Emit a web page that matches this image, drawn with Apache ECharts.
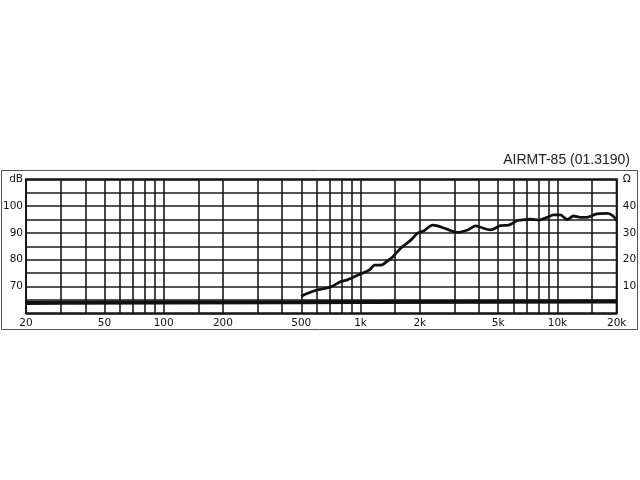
<!DOCTYPE html>
<html><head><meta charset="utf-8">
<script src="https://cdn.jsdelivr.net/npm/echarts@6/dist/echarts.min.js"></script>
<style>html,body{margin:0;padding:0;background:#fff}#c{width:640px;height:480px}</style>
</head><body><div id="c"></div>
<script>
const title = 'AIRMT-85 (01.3190)';
const gridFreqs = [20,30,40,50,60,70,80,90,100,150,200,300,400,500,600,700,800,900,1000,1500,2000,3000,4000,5000,6000,7000,8000,9000,10000,15000,20000];
const labelFreqs = [20,50,100,200,500,1000,2000,5000,10000,20000];
const freqSPL = [500,520,600,660,725,785,850,915,1000,1110,1180,1270,1375,1460,1600,1800,1950,2100,2320,2460,2770,3100,3500,3850,4070,4570,5140,5660,6240,6500,7300,8030,8850,9570,10340,11200,12070,13050,14100,15850,17800,18860,20000];
const spl = [66.2,67.0,68.7,69.3,70.2,71.7,72.4,73.4,74.7,76.2,78.0,78.0,79.6,81.1,84.3,87.3,89.9,90.8,92.9,92.6,91.3,90.2,91.1,92.6,92.1,91.1,92.7,92.9,94.6,94.8,95.1,94.8,95.8,96.7,96.7,95.0,96.3,95.8,95.8,97.1,97.3,96.7,94.8];
const freqZ = [20,30,100,500,1000,5000,20000];
const imp = [3.8,3.9,4.0,4.1,4.2,4.3,4.4];

const fmtF = v => v >= 1000 ? (v/1000) + 'k' : String(v);
const font = 'DejaVu Sans';
const chart = echarts.init(document.getElementById('c'), null, {renderer:'canvas'});
chart.setOption({
  animation:false,
  backgroundColor:'#fff',
  title:{text:title, right:5, top:148, textStyle:{fontFamily:'Liberation Sans', fontSize:14, fontWeight:'normal', color:'#222'}},
  graphic:[{type:'rect', shape:{x:1.5,y:170.5,width:636,height:159}, style:{fill:'none', stroke:'#555', lineWidth:1}}],
  grid:{left:23.3, right:23.3, top:179.3, bottom:166.7, show:true, borderColor:'#111', borderWidth:2, backgroundColor:'transparent'},
  xAxis:{type:'log', logBase:10, min:20, max:20000,
    axisLine:{show:false}, axisTick:{show:false, customValues:gridFreqs},
    axisLabel:{customValues:labelFreqs, formatter:fmtF, fontFamily:font, fontSize:10.5, color:'#111', margin:4},
    splitLine:{show:true, lineStyle:{color:'#1a1a1a', width:1.6}}},
  yAxis:[
    {type:'value', min:60, max:110, interval:5, axisLine:{show:false}, axisTick:{show:false},
     axisLabel:{formatter:v => v===110?'dB':(v>=70&&v<=100&&v%10===0?String(v):''), fontFamily:font, fontSize:10.5, color:'#111', margin:3},
     splitLine:{show:true, lineStyle:{color:'#1a1a1a', width:1.6}}},
    {type:'value', min:0, max:50, interval:5, position:'right', axisLine:{show:false}, axisTick:{show:false},
     axisLabel:{formatter:v => v===50?'Ω':(v>=10&&v<=40&&v%10===0?String(v):''), fontFamily:font, fontSize:10.5, color:'#111', margin:6},
     splitLine:{show:false}}
  ],
  series:[
    {type:'line', yAxisIndex:0, data:freqSPL.map((f,i)=>[f,spl[i]]), showSymbol:false, smooth:0.3,
     lineStyle:{color:'#111', width:2.8}},
    {type:'line', yAxisIndex:1, data:freqZ.map((f,i)=>[f,imp[i]]), showSymbol:false,
     lineStyle:{color:'#111', width:4}}
  ]
});
</script></body></html>
